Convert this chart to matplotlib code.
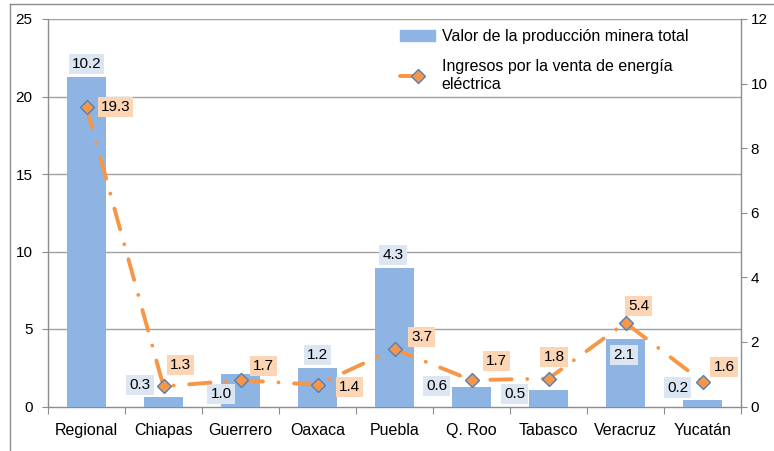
import numpy as np
import matplotlib
matplotlib.use("Agg")
import matplotlib.pyplot as plt
from matplotlib.patches import Patch
from matplotlib.lines import Line2D

plt.rcParams['font.family'] = ['Liberation Sans', 'DejaVu Sans']

categories = ["Regional", "Chiapas", "Guerrero", "Oaxaca", "Puebla",
              "Q. Roo", "Tabasco", "Veracruz", "Yucatán"]
mineria = [10.2, 0.3, 1.0, 1.2, 4.3, 0.6, 0.5, 2.1, 0.2]       # right axis (bars)
energia = [19.3, 1.3, 1.7, 1.4, 3.7, 1.7, 1.8, 5.4, 1.6]       # left axis (line)
left_ticks = [0, 5, 10, 15, 20, 25]
right_ticks = [0, 2, 4, 6, 8, 10, 12]
series_names = ["Valor de la producción minera total",
                "Ingresos por la venta de energía\neléctrica"]

# label offsets in pixels (style/positioning only)
bar_lbl_off = [(0, 13), (-23.5, 12), (-19.5, -20), (0, 13), (-1.5, 13),
               (-35, 1), (-34, -4), (-1.5, -16), (-25, 12.5)]
line_lbl_off = [(29, 0), (17, 21.5), (23, 14.5), (32, -2.5), (27, 12),
                (25, 19.5), (5.5, 22), (13, 17), (21.5, 15)]

BAR = '#8DB4E2'
ORANGE = '#F79646'
EDGE = '#4F81BD'
GRID = '#A0A0A0'
SPINE = '#8C8C8C'
LW = 2.8
DASH = (0, (5.5, 4.0, 0.01, 4.0))

W, H = 774, 451
fig = plt.figure(figsize=(W / 100, H / 100), dpi=100)
x0, x1, ytop, ybot = 48, 741, 19, 406.5
rect = [x0 / W, (H - ybot) / H, (x1 - x0) / W, (ybot - ytop) / H]

ax = fig.add_axes(rect)          # left scale, gridlines
ax2 = ax.twinx()                 # right scale, bars
ax3 = ax.twinx()                 # left scale, line

x = np.arange(len(categories))
ax.set_xlim(-0.5, len(categories) - 0.5)
ax.set_ylim(0, 25)
ax2.set_ylim(0, 12)
ax3.set_ylim(0, 25)

for v in left_ticks[1:]:
    ax.axhline(v, color=GRID, lw=1, zorder=0)

ax2.bar(x, mineria, width=0.51, color=BAR, zorder=2)
ax3.plot(x, energia, color=ORANGE, lw=LW, linestyle=DASH,
         dash_capstyle='round', marker='D', markersize=7.5,
         markerfacecolor=ORANGE, markeredgecolor=EDGE, markeredgewidth=1, zorder=3)
ax3.axis('off')

# spines
for a in (ax, ax2):
    for s in a.spines.values():
        s.set_visible(False)
ax.spines['left'].set_visible(True)
ax.spines['bottom'].set_visible(True)
ax2.spines['right'].set_visible(True)
for s in (ax.spines['left'], ax.spines['bottom'], ax2.spines['right']):
    s.set_color(SPINE)
    s.set_linewidth(1)

ax.set_yticks(left_ticks)
ax.tick_params(axis='y', direction='out', length=4, color=SPINE, pad=7,
               labelsize=11, labelcolor='#000000')
ax2.set_yticks(right_ticks)
ax2.tick_params(axis='y', direction='out', length=4, color=SPINE, pad=3,
                labelsize=11, labelcolor='#000000')

ax.set_xticks(np.arange(-0.5, len(categories), 1))
ax.set_xticklabels([])
ax.tick_params(axis='x', which='major', direction='out', length=5, color=SPINE)
ax.set_xticks(x, minor=True)
ax.set_xticklabels(categories, minor=True)
ax.tick_params(axis='x', which='minor', length=0, pad=12, labelsize=11.5,
               labelcolor='#000000')

# data labels
for i, v in enumerate(mineria):
    dx, dy = bar_lbl_off[i]
    ax2.annotate(f"{v:.1f}", xy=(i, v), xytext=(dx, dy), textcoords='offset pixels',
                 ha='center', va='center', fontsize=11, color='#000000',
                 bbox=dict(boxstyle='square,pad=0.2', fc='#DCE6F2', ec='none'),
                 annotation_clip=False, zorder=4)
for i, v in enumerate(energia):
    dx, dy = line_lbl_off[i]
    ax3.annotate(f"{v:.1f}", xy=(i, v), xytext=(dx, dy), textcoords='offset pixels',
                 ha='center', va='center', fontsize=11, color='#000000',
                 bbox=dict(boxstyle='square,pad=0.2', fc='#FCD5B5', ec='none'),
                 annotation_clip=False, zorder=5)

handles = [Patch(color=BAR),
           Line2D([], [], color=ORANGE, lw=LW, linestyle=DASH,
                  dash_capstyle='round', marker='D', markersize=7,
                  markerfacecolor=ORANGE, markeredgecolor=EDGE)]
leg = ax3.legend(handles, series_names, loc='upper left',
                 bbox_to_anchor=((400 - x0) / (x1 - x0), (ybot - 29) / (ybot - ytop)),
                 frameon=False, fontsize=11.5, handlelength=2.2, handletextpad=0.4,
                 labelspacing=0.95, borderpad=0, borderaxespad=0)

# outer frame of the chart area
fig.add_artist(Line2D([9.5 / W, 9.5 / W], [0, (H - 3.5) / H], transform=fig.transFigure,
                      color=SPINE, lw=1))
fig.add_artist(Line2D([9.5 / W, 1], [(H - 3.5) / H, (H - 3.5) / H],
                      transform=fig.transFigure, color=SPINE, lw=1))

fig.savefig("out.png", dpi=100)
